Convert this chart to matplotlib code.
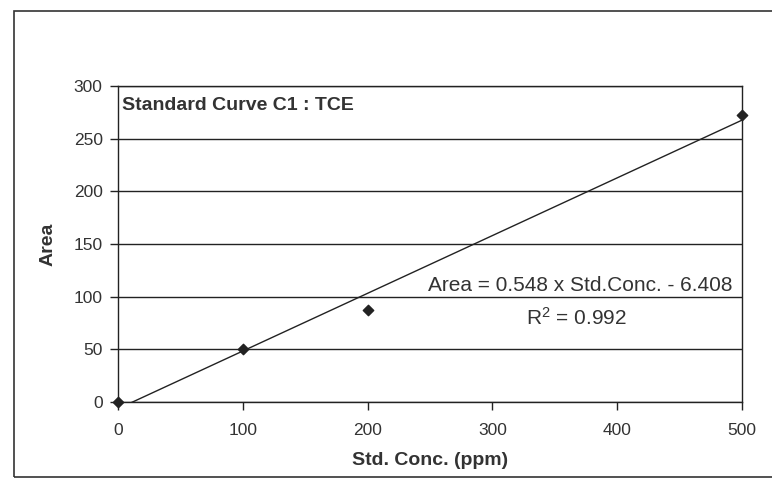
import numpy as np
import matplotlib
matplotlib.use('Agg')
import matplotlib.pyplot as plt
from matplotlib.patches import Rectangle

# standard curve data
conc = [0, 100, 200, 500]
area = [0, 50, 87, 272]
slope = 0.548
intercept = -6.408
r2 = 0.992
xticks = [0, 100, 200, 300, 400, 500]
yticks = [0, 50, 100, 150, 200, 250, 300]

plt.rcParams['font.family'] = ['Liberation Sans', 'DejaVu Sans']

fig = plt.figure(figsize=(7.72, 4.83), dpi=100)
# outer chart frame (runs off the right side of the scan)
fig.patches.append(Rectangle((14/772, 1-477/483), 1.0, (477-11)/483, transform=fig.transFigure,
                             fill=False, edgecolor='#333333', linewidth=1.2))

ax = fig.add_axes([118/772, 1-402/483, (742-118)/772, (402-86)/483])
ax.set_xlim(0, 500)
ax.set_ylim(0, 300)

# gridlines
for y in yticks:
    ax.axhline(y, color='#222222', linewidth=1.0, zorder=1)

# trend line from the fitted equation
xs = np.array([0, 500])
ax.plot(xs, slope*xs + intercept, color='#222222', linewidth=1.0, zorder=2)
ax.scatter(conc, area, marker='D', s=28, color='#222222', zorder=3, clip_on=False)

for s in ax.spines.values():
    s.set_color('#222222')
    s.set_linewidth(1.0)

ax.set_xticks(xticks)
ax.set_yticks(yticks)
ax.tick_params(axis='both', direction='out', length=6, width=1, color='#222222',
               labelsize=12.5, labelcolor='#333333')
ax.tick_params(axis='x', pad=9)
ax.tick_params(axis='y', pad=5)

ax.set_xlabel('Std. Conc. (ppm)', fontsize=14, fontweight='bold', color='#333333', labelpad=10)
ax.set_ylabel('Area', fontsize=14, fontweight='bold', color='#333333', labelpad=12)

ax.text(0.007, 0.965, 'Standard Curve C1 : TCE', transform=ax.transAxes, fontsize=14,
        fontweight='bold', color='#333333', va='top', ha='left')
ax.text(0.985, 0.338, 'Area = %.3f x Std.Conc. - %.3f' % (slope, -intercept), transform=ax.transAxes,
        fontsize=15, color='#333333', ha='right', va='bottom')
ax.text(0.735, 0.265, '$\\mathregular{R^2}$ = %.3f' % r2, transform=ax.transAxes,
        fontsize=15, color='#333333', ha='center', va='center')

fig.savefig('out.png', dpi=100)
